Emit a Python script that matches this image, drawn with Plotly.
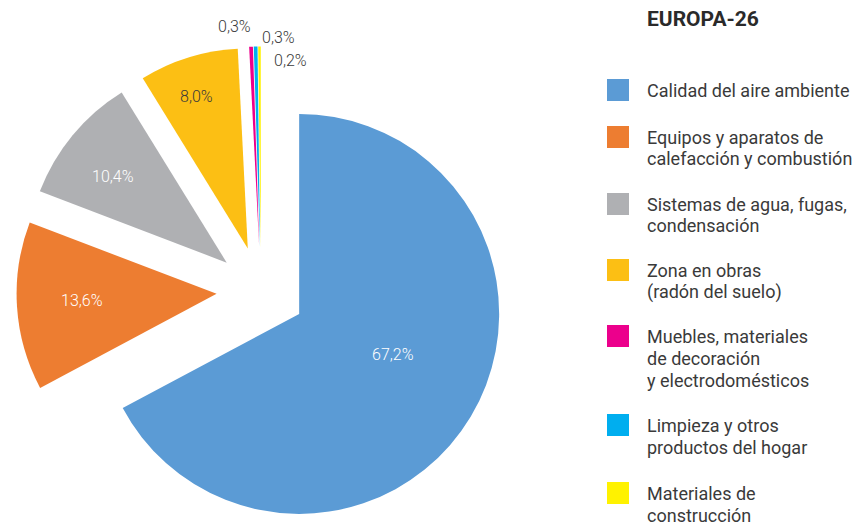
import math
import plotly.graph_objects as go

W, H = 859, 523

categories = [
    "Calidad del aire ambiente",
    "Equipos y aparatos de<br>calefacción y combustión",
    "Sistemas de agua, fugas,<br>condensación",
    "Zona en obras<br>(radón del suelo)",
    "Muebles, materiales<br>de decoración<br>y electrodomésticos",
    "Limpieza y otros<br>productos del hogar",
    "Materiales de<br>construcción",
]
values = [67.2, 13.6, 10.4, 8.0, 0.3, 0.3, 0.2]
value_labels = ["67,2%", "13,6%", "10,4%", "8,0%", "0,3%", "0,3%", "0,2%"]
colors = ["#5B9BD5", "#ED7D31", "#AFB0B3", "#FCBF14", "#EC008C", "#00AEEF", "#FFF200"]
label_colors = ["white", "white", "white", "#3a3a3a", "#3a3a3a", "#3a3a3a", "#3a3a3a"]
title = "EUROPA-26"

FONT = "Roboto, 'Open Sans', sans-serif"


def px(x, y):
    """page pixel -> paper coords"""
    return x / W, 1 - y / H


# geometry of the exploded pie (pixels)
CX, CY, R, PULL = 261, 291, 200, 44.5

fig = go.Figure()
total = sum(values)
cum = 0.0
for i, v in enumerate(values):
    mid = 2 * math.pi * (cum + v / 2) / total
    cum += v
    cx = CX + PULL * math.sin(mid)
    cy = CY - PULL * math.cos(mid)
    cols = ["rgba(0,0,0,0)"] * len(values)
    cols[i] = colors[i]
    fig.add_trace(go.Pie(
        values=values,
        labels=[c.replace("<br>", " ") for c in categories],
        textinfo="none",
        marker=dict(colors=cols, line=dict(width=0)),
        sort=False,
        direction="clockwise",
        rotation=0,
        hoverinfo="skip",
        showlegend=False,
        domain=dict(x=[(cx - R) / W, (cx + R) / W],
                    y=[1 - (cy + R) / H, 1 - (cy - R) / H]),
    ))

# value labels (pixel positions)
label_pos = [(393, 354), (82, 300), (113, 176), (196, 96), (234, 26), (278, 37), (290, 61)]
for i, (x, y) in enumerate(label_pos):
    ax, ay = px(x, y)
    fig.add_annotation(x=ax, y=ay, xref="paper", yref="paper",
                       text=value_labels[i], showarrow=False,
                       xanchor="center", yanchor="middle",
                       font=dict(family=FONT, size=16, color=label_colors[i], weight=300))

# custom legend
tx, ty = px(645, 19)
fig.add_annotation(x=tx, y=ty, xref="paper", yref="paper",
                   text="<b>" + title + "</b>", showarrow=False, xanchor="left",
                   yanchor="middle", font=dict(family=FONT, size=21, color="#2a2a2a"))
legend_y = [90, 137, 204, 270, 336, 425, 493]
LINE = 22
for i, cat in enumerate(categories):
    yc = legend_y[i]
    x0, y0 = px(607, yc + 11)
    x1, y1 = px(629, yc - 11)
    fig.add_shape(type="rect", xref="paper", yref="paper",
                  x0=x0, x1=x1, y0=y0, y1=y1,
                  fillcolor=colors[i], line=dict(width=0))
    for k, line in enumerate(cat.split("<br>")):
        lx, ly = px(645, yc + k * LINE)
        fig.add_annotation(x=lx, y=ly, xref="paper", yref="paper",
                           text=line, showarrow=False, xanchor="left", yanchor="middle",
                           font=dict(family=FONT, size=18, color="#3a3a3a"))

fig.update_layout(
    width=W, height=H,
    margin=dict(l=0, r=0, t=0, b=0),
    paper_bgcolor="white", plot_bgcolor="white",
    showlegend=False,
)
fig.write_html(
    "out.html",
    config={"displayModeBar": False},
    post_script=("document.body.style.margin='0';"
                 "document.body.style.overflow='hidden';"
                 "document.documentElement.style.overflow='hidden';"),
)
